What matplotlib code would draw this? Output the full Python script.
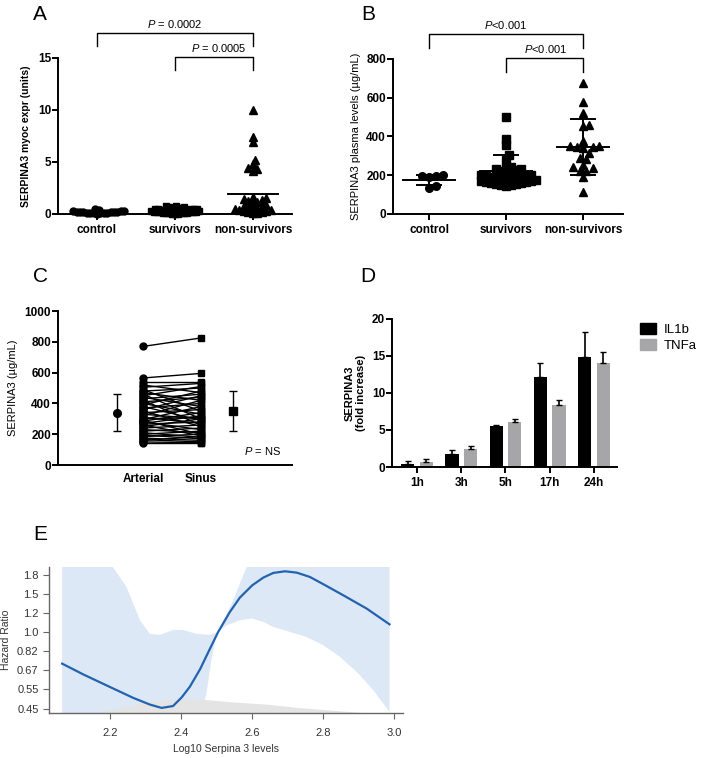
import numpy as np
import matplotlib
matplotlib.use("Agg")
import matplotlib.pyplot as plt
from matplotlib.patches import Patch

plt.rcParams['font.family'] = ['Liberation Sans', 'DejaVu Sans']
plt.rcParams['mathtext.fontset'] = 'custom'
plt.rcParams['mathtext.it'] = 'Liberation Sans:italic'
plt.rcParams['mathtext.rm'] = 'Liberation Sans'

# ---- panel A : myocardial expression
groups = ['control', 'survivors', 'non-survivors']
a_control = [0.52, 0.35, 0.3, 0.28, 0.25, 0.22, 0.2, 0.2, 0.18, 0.15, 0.15, 0.12, 0.1, 0.1, 0.08, 0.05, 0.05, 0.03]
a_surv = [0.8, 0.78, 0.7, 0.65, 0.6, 0.6, 0.55, 0.55, 0.5, 0.5, 0.48, 0.45, 0.45, 0.42, 0.4, 0.4, 0.38,
          0.35, 0.35, 0.32, 0.3, 0.3, 0.28, 0.25, 0.25, 0.22, 0.2, 0.2, 0.18, 0.15, 0.15, 0.12, 0.1, 0.1,
          0.08, 0.06, 0.05, 0.04, 0.03, 0.02]
a_nonsurv = [10.0, 7.4, 6.9, 5.2, 4.8, 4.4, 4.3, 4.1, 1.6, 1.5, 1.4, 1.3, 1.25, 1.2, 1.1, 0.9, 0.8, 0.7,
             0.65, 0.6, 0.5, 0.45, 0.4, 0.35, 0.3, 0.25, 0.2, 0.15, 0.1, 0.05]
a_means = [0.2, 0.4, 1.95]

# ---- panel B : plasma levels
b_control = [200, 198, 195, 192, 145, 135]
b_surv = [500, 385, 355, 305, 280, 240, 235, 230, 230, 225, 220, 210, 205, 200, 200, 195, 195, 190, 190,
          185, 185, 180, 180, 175, 175, 170, 170, 165, 165, 160, 160, 155, 155, 150, 150, 145]
b_nonsurv = [675, 580, 520, 460, 455, 375, 350, 350, 345, 345, 340, 315, 290, 285, 255, 240, 235, 220,
             220, 190, 115]
b_means = [175, 222, 344]
b_lower = [148, 141, 201]
b_upper = [201, 305, 490]

# ---- panel C : arterial vs sinus
arterial = [770, 565, 540, 520, 505, 490, 480, 470, 460, 450, 440, 430, 420, 410, 400, 390, 380, 370, 360,
            350, 340, 330, 320, 310, 300, 295, 290, 285, 280, 270, 265, 260, 250, 240, 230, 220, 210, 200,
            195, 185, 175, 165, 160, 150, 140]
sinus = [825, 595, 540, 470, 530, 350, 500, 420, 300, 510, 380, 460, 260, 440, 330, 480, 290, 400, 450,
         250, 360, 300, 420, 270, 310, 380, 200, 340, 230, 320, 280, 190, 300, 260, 210, 240, 180, 220,
         170, 200, 160, 150, 185, 145, 140]
c_mean = [340, 350]
c_sd = [120, 130]

# ---- panel D : fold increase
times = ['1h', '3h', '5h', '17h', '24h']
il1b = [0.4, 1.8, 5.6, 12.1, 14.9]
il1b_err = [0.4, 0.5, 0.1, 2.0, 3.3]
tnfa = [0.7, 2.4, 6.1, 8.4, 14.0]
tnfa_err = [0.4, 0.4, 0.4, 0.6, 1.6]

# ---- panel E : spline hazard ratio
e_x = [2.066, 2.125, 2.200, 2.266, 2.313, 2.346, 2.378, 2.402, 2.425, 2.454, 2.482, 2.505, 2.538, 2.566,
       2.601, 2.632, 2.660, 2.693, 2.726, 2.763, 2.803, 2.857, 2.923, 2.987]
e_hr = [0.718, 0.642, 0.563, 0.502, 0.468, 0.452, 0.461, 0.504, 0.563, 0.677, 0.840, 1.0, 1.233, 1.432,
        1.629, 1.765, 1.853, 1.885, 1.859, 1.777, 1.640, 1.467, 1.276, 1.083]
up_x = [2.066, 2.15, 2.209, 2.247, 2.285, 2.313, 2.341, 2.378, 2.407, 2.444, 2.482, 2.505, 2.547, 2.585,
        2.65, 2.75, 2.85, 2.987]
up_hr = [3.5, 2.6, 1.97, 1.60, 1.13, 0.98, 0.97, 1.02, 1.02, 0.98, 0.97, 1.0, 1.39, 1.97, 2.4, 2.6, 2.6, 2.5]
lo_x = [2.066, 2.3, 2.45, 2.458, 2.472, 2.486, 2.500, 2.505, 2.529, 2.566, 2.601, 2.632, 2.660, 2.707,
        2.754, 2.801, 2.848, 2.895, 2.942, 2.987]
lo_hr = [0.2, 0.2, 0.3, 0.43, 0.525, 0.744, 0.966, 1.0, 1.072, 1.13, 1.15, 1.11, 1.054, 1.0, 0.949, 0.87,
         0.77, 0.658, 0.543, 0.433]
dens_x = [2.153, 2.219, 2.285, 2.341, 2.407, 2.472, 2.547, 2.641, 2.735, 2.829, 2.923]
dens_hr = [0.429, 0.449, 0.476, 0.490, 0.498, 0.493, 0.481, 0.470, 0.453, 0.441, 0.429]
e_ticks = [0.449, 0.549, 0.670, 0.819, 1.0, 1.221, 1.492, 1.822]
e_ticklabels = ['0.45', '0.55', '0.67', '0.82', '1.0', '1.2', '1.5', '1.8']


def swarm(vals, d, px_x, px_y):
    # simple beeswarm: offsets (data units) so markers of size d px don't overlap
    vals = np.asarray(vals, float)
    placed = []
    offs = np.zeros(len(vals))
    cands = [0.0]
    for j in range(1, 80):
        cands += [j * d * 0.5, -j * d * 0.5]
    for i in np.argsort(vals):
        y = vals[i] * px_y
        for c in cands:
            if all((c - px) ** 2 + (y - py) ** 2 >= d * d for px, py in placed):
                break
        placed.append((c, y))
        offs[i] = c / px_x
    return offs


def style_prism(ax):
    for s in ['top', 'right']:
        ax.spines[s].set_visible(False)
    for s in ['left', 'bottom']:
        ax.spines[s].set_linewidth(1.4)
    ax.tick_params(width=1.4, length=4, labelsize=8.5)
    ax.tick_params(axis='y', pad=1)
    for lab in ax.get_xticklabels() + ax.get_yticklabels():
        lab.set_fontweight('bold')


fig = plt.figure(figsize=(7.09, 7.58), dpi=100)

# ================= A
ax = fig.add_axes([0.0818, 0.7177, 0.3300, 0.2058])
mk = ['o', 's', '^']
for i, (vals, d, ms) in enumerate([(a_control, 3.4, 5), (a_surv, 3.0, 5), (a_nonsurv, 4.5, 5.5)]):
    off = swarm(vals, d, 78, 10.4)
    ax.plot(i + off, vals, mk[i], color='black', ms=ms, ls='none', clip_on=False)
    ax.plot([i - 0.32, i + 0.32], [a_means[i]] * 2, color='black', lw=1.4)
ax.set_xlim(-0.5, 2.5)
ax.set_ylim(0, 15)
ax.set_yticks([0, 5, 10, 15])
ax.set_xticks(range(3))
ax.set_xticklabels(groups)
ax.set_ylabel('SERPINA3 myoc expr (units)', fontsize=7.5, fontweight='bold', labelpad=5)
style_prism(ax)
ax.plot([0, 0, 2, 2], [16.2, 17.4, 17.4, 16.2], color='black', lw=1, clip_on=False)
ax.plot([1, 1, 2, 2], [13.8, 15.1, 15.1, 13.8], color='black', lw=1, clip_on=False)
ax.text(1, 18.3, r'$\mathit{P}$ = 0.0002', ha='center', va='center', fontsize=8)
ax.text(1.56, 16.0, r'$\mathit{P}$ = 0.0005', ha='center', va='center', fontsize=8)

# ================= B
ax = fig.add_axes([0.5543, 0.7177, 0.3244, 0.2045])
for i, (vals, d, ms) in enumerate([(b_control, 7, 5.5), (b_surv, 5.0, 5.5), (b_nonsurv, 6.5, 5.5)]):
    off = swarm(vals, d, 77, 155 / 800)
    ax.plot(i + off, vals, mk[i], color='black', ms=ms, ls='none')
    ax.plot([i - 0.34, i + 0.34], [b_means[i]] * 2, color='black', lw=1.4)
    ax.plot([i, i], [b_lower[i], b_upper[i]], color='black', lw=1.4)
    for v in (b_lower[i], b_upper[i]):
        ax.plot([i - 0.16, i + 0.16], [v, v], color='black', lw=1.4)
ax.set_xlim(-0.47, 2.52)
ax.set_ylim(0, 800)
ax.set_yticks([0, 200, 400, 600, 800])
ax.set_xticks(range(3))
ax.set_xticklabels(groups)
ax.set_ylabel('SERPINA3 plasma levels (µg/mL)', fontsize=8, labelpad=4)
style_prism(ax)
ax.plot([0, 0, 2, 2], [857, 929, 929, 857], color='black', lw=1, clip_on=False)
ax.plot([1, 1, 2, 2], [733, 805, 805, 733], color='black', lw=1, clip_on=False)
ax.text(1, 975, r'$\mathit{P}$<0.001', ha='center', va='center', fontsize=8)
ax.text(1.52, 852, r'$\mathit{P}$<0.001', ha='center', va='center', fontsize=8)

# ================= C
ax = fig.add_axes([0.0818, 0.3865, 0.3300, 0.2032])
for a, s in zip(arterial, sinus):
    ax.plot([1, 2], [a, s], color='black', lw=1)
ax.plot([1] * len(arterial), arterial, 'o', color='black', ms=5, ls='none')
ax.plot([2] * len(sinus), sinus, 's', color='black', ms=5, ls='none')
ax.errorbar([0.55], [c_mean[0]], yerr=[c_sd[0]], fmt='o', color='black', ms=5.5, capsize=3, lw=1)
ax.errorbar([2.55], [c_mean[1]], yerr=[c_sd[1]], fmt='s', color='black', ms=5.5, capsize=3, lw=1)
ax.set_xlim(-0.466, 3.57)
ax.set_ylim(0, 1000)
ax.set_yticks([0, 200, 400, 600, 800, 1000])
ax.set_xticks([1, 2])
ax.set_xticklabels(['Arterial', 'Sinus'])
ax.set_ylabel('SERPINA3 (µg/mL)', fontsize=8, labelpad=5)
style_prism(ax)
ax.tick_params(axis='x', length=0, pad=6)
ax.text(3.07, 90, r'$\mathit{P}$ = NS', ha='center', va='center', fontsize=8)

# ================= D
ax = fig.add_axes([0.5529, 0.3839, 0.3173, 0.1953])
pos = np.arange(len(times))
ax.bar(pos - 0.21, il1b, 0.3, color='black', label='IL1b')
ax.bar(pos + 0.21, tnfa, 0.3, color='#a6a6a9', label='TNFa')
ax.errorbar(pos - 0.21, il1b, yerr=[np.zeros(5), il1b_err], fmt='none', ecolor='black', capsize=2.5, lw=1.2)
ax.errorbar(pos + 0.21, tnfa, yerr=[np.zeros(5), tnfa_err], fmt='none', ecolor='black', capsize=2.5, lw=1.2)
ax.set_xlim(-0.565, 4.52)
ax.set_ylim(0, 20)
ax.set_yticks([0, 5, 10, 15, 20])
ax.set_xticks(pos)
ax.set_xticklabels(times)
ax.set_ylabel('SERPINA3\n(fold increase)', fontsize=8, fontweight='bold', labelpad=4)
style_prism(ax)
ax.legend(handles=[Patch(color='black', label='IL1b'), Patch(color='#a6a6a9', label='TNFa')],
          loc='upper left', bbox_to_anchor=(1.08, 1.01), frameon=False, fontsize=9.5,
          handlelength=1.2, handleheight=0.9, handletextpad=0.6, borderaxespad=0, labelspacing=0.25)

# ================= E
ax = fig.add_axes([0.0691, 0.0594, 0.4993, 0.1926])
ax.set_yscale('log')
ax.fill(list(up_x) + lo_x[::-1], list(up_hr) + lo_hr[::-1], color='#dce8f6', lw=0, zorder=1)
ax.fill_between(dens_x, 0.3, dens_hr, color='#e4e4e4', lw=0, zorder=2)
ax.plot(e_x, e_hr, color='#2363ae', lw=1.6, zorder=3)
ax.set_xlim(2.029, 3.025)
ax.set_ylim(0.4287, 1.972)
ax.set_yticks(e_ticks)
ax.set_yticklabels(e_ticklabels)
ax.minorticks_off()
ax.set_xticks([2.2, 2.4, 2.6, 2.8, 3.0])
ax.set_xticklabels(['2.2', '2.4', '2.6', '2.8', '3.0'])
for s in ['top', 'right']:
    ax.spines[s].set_visible(False)
for s in ['left', 'bottom']:
    ax.spines[s].set_color('#666666')
    ax.spines[s].set_linewidth(1)
ax.tick_params(axis='both', colors='#666666', labelcolor='#333333', labelsize=8, length=4)
ax.tick_params(axis='x', pad=7)
ax.set_ylabel('Hazard Ratio', fontsize=7.5, color='#333333', labelpad=4)
ax.set_xlabel('Log10 Serpina 3 levels', fontsize=7.5, color='#333333', labelpad=4)

# panel letters
for lab, (px, py) in zip('ABCDE', [(40, 15), (368, 15), (40, 277), (368, 277), (40, 535)]):
    fig.text(px / 709, 1 - py / 758, lab, fontsize=15, ha='center', va='center')

fig.savefig('out.png', dpi=100)
